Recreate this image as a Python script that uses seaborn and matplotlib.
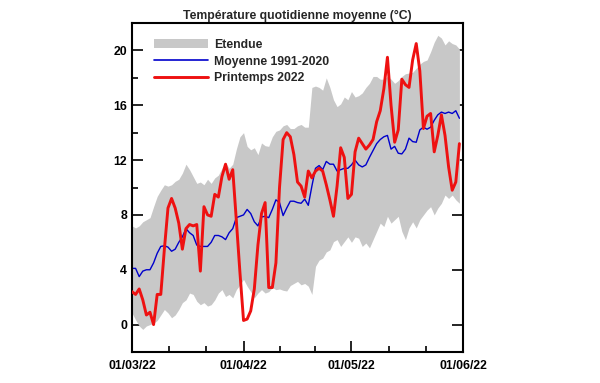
import numpy as np
import pandas as pd
import matplotlib
matplotlib.use('Agg')
import matplotlib.pyplot as plt
import matplotlib.dates as mdates
from matplotlib.ticker import MultipleLocator, FixedLocator
from matplotlib.patches import Patch
from matplotlib.lines import Line2D
import seaborn as sns

# ---------------- data ----------------
start_date = '2022-03-01'
n_days = 92

printemps_2022 = [2.4, 2.2, 2.6, 1.8, 0.7, 0.9, 0.0, 2.2, 2.2, 5.5,
                  8.5, 9.2, 8.5, 7.4, 5.5, 7.0, 7.3, 7.2, 7.3, 3.9,
                  8.6, 8.0, 7.9, 9.5, 9.3, 10.8, 11.7, 10.6, 11.3, 7.6,
                  3.8, 0.3, 0.4, 1.0, 2.6, 5.8, 8.1, 8.9, 2.7, 2.7,
                  4.5, 10.0, 13.5, 14.0, 13.7, 12.4, 10.4, 10.1, 9.3, 11.2,
                  10.7, 11.2, 11.4, 11.2, 10.2, 9.1, 7.9, 10.1, 12.9, 12.2,
                  9.2, 9.5, 12.6, 13.6, 13.2, 12.8, 13.1, 13.5, 14.8, 15.6,
                  17.2, 19.5, 16.0, 13.3, 14.2, 17.9, 17.5, 17.3, 19.3, 20.5,
                  18.5, 14.3, 15.2, 15.4, 12.6, 13.8, 15.3, 13.8, 11.5, 9.8,
                  10.4, 13.2]

moyenne_1991_2020 = [4.1, 4.1, 3.5, 3.9, 4.0, 4.0, 4.5, 5.2, 5.7, 5.75,
                     5.65, 5.35, 5.5, 6.0, 6.4, 7.0, 6.7, 6.5, 5.8, 5.7,
                     5.7, 5.7, 6.0, 6.5, 6.5, 6.4, 6.2, 6.7, 7.0, 7.8,
                     7.9, 8.0, 8.4, 8.1, 7.5, 7.2, 7.85, 7.9, 7.8, 8.4,
                     9.1, 8.9, 7.95, 8.5, 9.0, 9.0, 8.9, 8.85, 9.15, 8.7,
                     10.1, 11.4, 11.6, 11.3, 11.9, 11.7, 11.7, 11.2, 11.3, 11.4,
                     11.4, 11.65, 12.0, 11.65, 11.5, 11.65, 12.2, 12.7, 13.2, 13.5,
                     13.7, 13.8, 12.8, 13.0, 12.5, 12.45, 12.8, 13.6, 13.35, 13.3,
                     14.2, 14.4, 14.25, 14.4, 14.9, 15.3, 15.5, 15.4, 15.5, 15.4,
                     15.6, 15.05]

etendue_max = [7.2, 7.05, 7.2, 7.5, 7.65, 7.8, 8.6, 9.35, 9.8, 10.2,
               10.1, 10.2, 10.45, 10.6, 11.05, 11.7, 11.3, 10.8, 10.3, 10.4,
               10.2, 10.6, 10.3, 10.7, 10.9, 11.4, 11.8, 11.4, 11.7, 12.8,
               13.7, 14.0, 13.0, 12.75, 12.9, 12.4, 13.25, 13.05, 13.0, 13.7,
               14.1, 14.2, 14.5, 14.6, 14.3, 14.3, 14.5, 14.6, 14.4, 14.4,
               17.3, 17.4, 17.3, 17.1, 18.0, 17.3, 16.4, 15.9, 16.1, 16.6,
               16.4, 17.0, 16.6, 16.7, 16.9, 17.3, 17.6, 18.1, 18.1, 17.9,
               17.9, 18.1, 17.9, 17.6, 17.8, 18.1, 18.3, 18.35, 18.4, 18.7,
               19.0, 19.2, 19.3, 19.9, 20.6, 21.1, 20.9, 20.4, 20.7, 20.5,
               20.4, 20.1]

etendue_min = [0.85, 0.35, -0.1, -0.35, -0.1, 0.0, 0.1, 0.3, 0.7, 1.1,
               0.85, 0.5, 0.7, 1.1, 1.6, 1.8, 2.3, 2.2, 1.7, 1.45,
               1.6, 1.35, 1.45, 1.8, 2.3, 2.55, 2.05, 2.2, 1.95, 2.55,
               2.9, 3.3, 2.8, 2.4, 1.95, 2.3, 2.55, 2.3, 2.4, 2.7,
               2.55, 2.6, 2.5, 2.45, 2.85, 3.0, 3.15, 2.9, 3.0, 2.8,
               2.2, 4.25, 4.7, 4.85, 5.3, 5.45, 6.05, 6.2, 5.7, 6.05,
               6.4, 6.0, 6.4, 6.3, 5.7, 5.95, 5.6, 6.2, 6.8, 7.4,
               7.15, 7.9, 7.4, 7.65, 7.9, 6.8, 6.2, 7.05, 7.5, 7.05,
               7.65, 8.0, 8.35, 8.6, 8.0, 8.5, 8.85, 9.45, 9.2, 9.45,
               9.1, 8.85]

title = 'Température quotidienne moyenne (°C)'
labels = ['Etendue', 'Moyenne 1991-2020', 'Printemps 2022']
date_fmt = '%d/%m/%y'

# ---------------- plot ----------------
dates = pd.date_range(start_date, periods=n_days, freq='D')
df = pd.DataFrame({'date': dates, 'moy': moyenne_1991_2020, 'p2022': printemps_2022,
                   'lo': etendue_min, 'hi': etendue_max})

sns.set_theme(style='ticks')
plt.rcParams['font.family'] = ['Liberation Sans', 'DejaVu Sans']
plt.rcParams['font.weight'] = 'bold'

GRAY = '#C8C8C8'
BLUE = '#0000CC'
RED = '#EE1111'

fig = plt.figure(figsize=(6, 3.83), dpi=100)
ax = fig.add_axes([132/600, 1 - 352/383, 331/600, 329/383])

ax.fill_between(df['date'], df['lo'], df['hi'], color=GRAY, linewidth=0, zorder=1)
sns.lineplot(data=df, x='date', y='moy', color=BLUE, linewidth=1.0, ax=ax, zorder=2)
sns.lineplot(data=df, x='date', y='p2022', color=RED, linewidth=2.1, ax=ax, zorder=3)

ax.set_xlabel('')
ax.set_ylabel('')
ax.set_xlim(pd.Timestamp('2022-03-01'), pd.Timestamp('2022-06-01'))
ax.set_ylim(-2, 22)

ax.xaxis.set_major_locator(mdates.MonthLocator())
ax.xaxis.set_major_formatter(mdates.DateFormatter(date_fmt))
month_starts = pd.date_range('2022-03-01', '2022-06-01', freq='MS')
minor_pos = []
for a, b in zip(month_starts[:-1], month_starts[1:]):
    s, e = mdates.date2num(a), mdates.date2num(b)
    minor_pos += [s + (e - s) / 3, s + 2 * (e - s) / 3]
ax.xaxis.set_minor_locator(FixedLocator(minor_pos))

ax.yaxis.set_major_locator(MultipleLocator(4))
ax.yaxis.set_minor_locator(MultipleLocator(2))

ax.tick_params(axis='both', which='both', direction='in', color='black', width=1.2,
               labelsize=8.8, labelcolor='black')
ax.tick_params(axis='both', which='major', length=8)
ax.tick_params(axis='both', which='minor', length=4.3)
ax.tick_params(axis='y', left=True, right=True, labelleft=True, labelright=False, pad=3.5)
ax.tick_params(axis='x', bottom=True, top=False, pad=5.5)
for lab in ax.get_xticklabels() + ax.get_yticklabels():
    lab.set_fontweight('bold')

for sp in ax.spines.values():
    sp.set_visible(True)
    sp.set_color('black')
    sp.set_linewidth(1.5)

ax.set_title(title, fontsize=8.8, fontweight='bold', pad=3)

handles = [Patch(facecolor=GRAY, edgecolor='none'),
           Line2D([], [], color=BLUE, linewidth=1.2),
           Line2D([], [], color=RED, linewidth=2.1)]
ax.legend(handles, labels, loc='upper left', bbox_to_anchor=(22/331, 1 - 16/329),
          frameon=False, borderpad=0, borderaxespad=0, handlelength=4.4,
          handleheight=0.8, handletextpad=0.5, labelspacing=0.38,
          prop={'weight': 'bold', 'size': 8.8})

fig.savefig('out.png', dpi=100)
